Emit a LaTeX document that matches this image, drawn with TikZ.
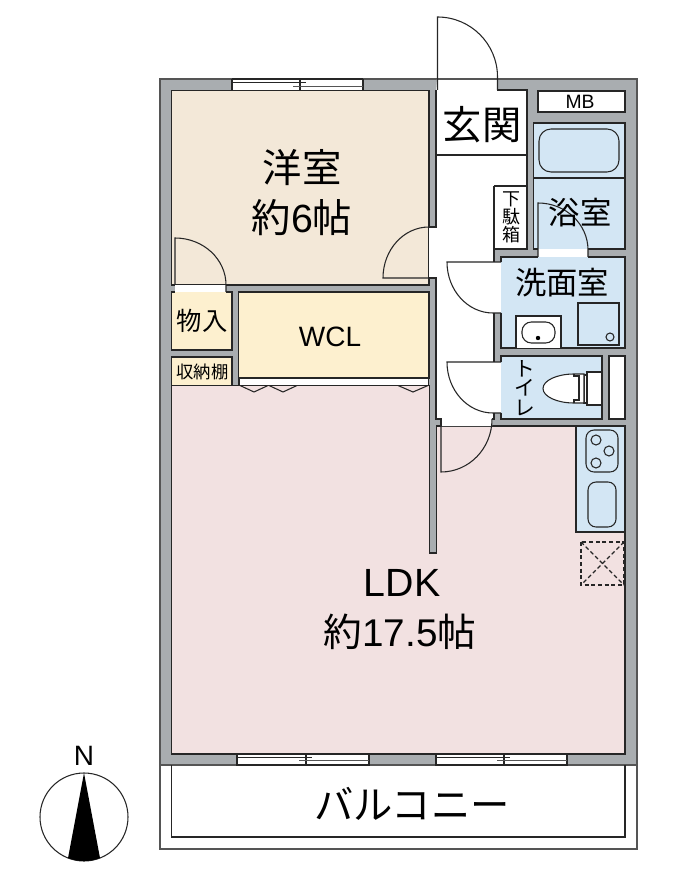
\documentclass[tikz,border=0pt]{standalone}
\usepackage{fontspec}
\setmainfont{Liberation Sans}
\newfontfamily\cjk{Noto Sans CJK JP}
\usetikzlibrary{positioning}
\definecolor{wallgray}{HTML}{A9ADB0}
\definecolor{walledge}{HTML}{555555}
\definecolor{westroom}{HTML}{F3E8D8}
\definecolor{closet}{HTML}{FDF0CF}
\definecolor{ldkroom}{HTML}{F2E1E1}
\definecolor{wetroom}{HTML}{D3E6F4}

\begin{document}
\begin{tikzpicture}[
            x=0.75pt, y=-0.75pt,
            line width=0.8pt,
            wall/.style={ draw=walledge, fill=wallgray },
            roomedge/.style={ draw=black!85 },
            opening/.style={ fill=white },
            fixture/.style={ draw=black!85, rounded corners=6pt },
            hugelabel/.style={ inner sep=0pt, font=\fontsize{29.5}{31}\selectfont },
            midlabel/.style={ inner sep=0pt, font=\fontsize{23.5}{25}\selectfont },
            smalllabel/.style={ inner sep=0pt, font=\fontsize{13.5}{13.6}\selectfont },
            dotbox/.style={ draw=black!85, densely dashed, line width=0.9pt }
        ]
            \useasboundingbox (0,0) rectangle (692,887);

            % Outer walls
            \draw[wall] (160,79) rectangle (637,765);

            % Balcony
            \draw[draw=walledge] (160,765) -- (160,849) -- (637,849) -- (637,765);
            \draw[roomedge] (171.5,765) -- (171.5,837) -- (625,837) -- (625,765);

            % Western room, closets
            \draw[roomedge, fill=westroom] (171.5,90.5) rectangle (429,285);
            \draw[roomedge, fill=closet] (226,292) -- (232,292) -- (232,350) -- (171.5,350) -- (171.5,292) -- (175,292);
            \draw[roomedge, fill=closet] (238.5,292) rectangle (429,378);
            \draw[roomedge, fill=closet] (171.5,385.5) -- (171.5,357) -- (232,357) -- (232,385.5);
            \fill[opening] (175,285.5) rectangle (226,292);
            \draw[roomedge, fill=white] (239,378) rectangle (428.5,385.5);

            % LDK
            \draw[roomedge, fill=ldkroom] (171.5,385.5) -- (429.5,385.5) -- (429.5,553) -- (436.5,553) -- (436.5,426)
                -- (576,426) -- (576,532) -- (625,532) -- (625,754) -- (171.5,754) -- cycle;
            \draw[draw=black!85, densely dashed] (171.5,385.5) -- (232,385.5);

            % Hall and entrance
            \fill[opening] (437,79) -- (497,79) -- (497,90) -- (527,90) -- (527,249) -- (494,249) -- (494,419) -- (492,419)
                -- (492,426) -- (441,426) -- (441,419) -- (436,419) -- (436,278) -- (429,278) -- (429,227) -- (436,227) -- (436,90) -- cycle;
            \draw[draw=walledge] (437,79) -- (497,79);
            \draw[roomedge] (436,90) -- (436,227) -- (429,227);
            \draw[roomedge] (429,278) -- (436,278) -- (436,419) -- (441,419) -- (441,426);
            \draw[roomedge] (497,90) -- (527,90) -- (527,249) -- (494,249);
            \draw[roomedge] (436,155) -- (527,155);
            \draw[roomedge] (494,186) -- (527,186);
            \draw[roomedge] (494,186) -- (494,262);
            \draw[roomedge] (494,313) -- (494,362);
            \draw[roomedge] (494,413) -- (494,419) -- (492,419);

            % Bath, washroom, toilet, kitchen
            \draw[roomedge, fill=white] (538,91) rectangle (625,112);
            \draw[roomedge, fill=wetroom] (538,249) -- (533.5,249) -- (533.5,123) -- (625,123) -- (625,249) -- (588,249);
            \draw[roomedge] (533.5,178) -- (625,178);
            \draw[fixture, rounded corners=9pt] (539,129) rectangle (619,172);
            \fill[opening] (538,249.4) rectangle (588,256.6);
            \fill[wetroom] (501,257) rectangle (625,348);
            \draw[roomedge] (501,262) -- (501,257) -- (538,257);
            \draw[roomedge] (588,257) -- (625,257) -- (625,348) -- (501,348) -- (501,313);
            \fill[opening] (494.4,262) rectangle (501,313);
            \draw[roomedge, fill=white] (516,348) -- (516,316) -- (561,316) -- (561,348);
            \draw[fixture, fill=white, rounded corners=7pt] (522,322) rectangle (555,343);
            \fill (538,338) circle[radius=2.2];
            \draw[roomedge] (578,303) rectangle (619,345);
            \draw[roomedge] (610,337) circle[radius=4];
            \fill[wetroom] (501,356) rectangle (602,419);
            \draw[roomedge] (501,362) -- (501,356) -- (602,356) -- (602,419) -- (501,419) -- (501,413);
            \fill[opening] (494.4,362) rectangle (501,413);
            \draw[roomedge, fill=white] (609,356) rectangle (625,419);

            % Toilet
            \draw[roomedge, fill=white] (587,372) rectangle (602,405);
            \draw[roomedge, fill=white] (584,375) rectangle (587,403);
            \draw[roomedge, fill=white] (574,374) arc[start angle=-90, end angle=-270, x radius=31, y radius=14.5] -- (584,403) -- (584,374) -- cycle;
            \draw[roomedge] (574,374) -- (574,376) -- (579,376) -- (579,400) -- (574,400) -- (574,403);

            % Kitchen
            \draw[roomedge, fill=wetroom] (576,426) rectangle (625,532);
            \draw[fixture] (586,430) rectangle (618,472);
            \foreach \cx/\cy in {596/440, 609/451, 596/463}
                \draw[roomedge] (\cx,\cy) circle[radius=5];
            \draw[fixture] (588,482) rectangle (616,527);
            \draw[dotbox] (581,542) rectangle (624,585);
            \draw[dotbox] (581,542) -- (624,585);
            \draw[dotbox] (624,542) -- (581,585);

            % Windows
            \fill[opening] (232,79.6) rectangle (363,90);
            \draw[roomedge] (232,79) -- (232,90.5);
            \draw[roomedge] (363,79) -- (363,90.5);
            \draw[roomedge] (300,79) -- (300,90.5);
            \draw[roomedge] (232,82.7) -- (306,82.7);
            \draw[draw=walledge] (293,86.5) -- (363,86.5);
            \draw[roomedge] (232,79) -- (363,79);
            \foreach \xa/\xm/\xb in {237/306/369, 436/504/567} {
                \fill[opening] (\xa,754.5) rectangle (\xb,765);
                \draw[roomedge] (\xa,754) rectangle (\xb,765);
                \draw[roomedge] (\xm,754) -- (\xm,765);
                \draw[roomedge] (\xa,757.8) -- (\xm+6,757.8);
                \draw[draw=walledge] (\xm-7,760.8) -- (\xb,760.8);
            }

            % Sliding doors
            \foreach \xa/\xm/\xb in {240/254/268, 269/283/297, 398/413/428}
                \draw[roomedge] (\xa,385.5) -- (\xm,392) -- (\xb,385.5);

            % Doors
            \draw[roomedge] (437.5,90) -- (437.5,17) arc[start angle=-90, end angle=0, radius=60] -- (497.5,90);
            \draw[roomedge] (436,227) -- (429,227) arc[start angle=-90, end angle=-180, x radius=46, y radius=51] -- (436,278);
            \draw[roomedge] (175,285) -- (175,238) arc[start angle=-90, end angle=0, x radius=51, y radius=47] -- (226,292);
            \draw[roomedge] (538,257) -- (538,203) arc[start angle=-90, end angle=0, x radius=50, y radius=47] -- (588,257);
            \draw[roomedge] (501,262) -- (447,262) arc[start angle=180, end angle=90, x radius=46, y radius=51] -- (501,313);
            \draw[roomedge] (501,362) -- (447,362) arc[start angle=180, end angle=90, x radius=46, y radius=51] -- (501,413);
            \draw[roomedge] (441,426) -- (441,472) arc[start angle=90, end angle=0, x radius=51, y radius=53];

            % Labels
            \node (westname) [hugelabel] at (302,168) {\cjk 洋室};
            \node (westsize) [hugelabel, below=9.5pt of westname] {{\cjk 約}6{\cjk 帖}};
            \node (entrance) [hugelabel] at (482,125) {\cjk 玄関};
            \node (shoebox) [smalllabel, align=center] at (511,217) {\cjk 下\\\cjk 駄\\\cjk 箱};
            \node (meterbox) [inner sep=0pt, font=\fontsize{14.5}{15}\selectfont] at (580,101.5) {MB};
            \node (bath) [midlabel] at (580,213) {\cjk 浴室};
            \node (washroom) [midlabel] at (562,283) {\cjk 洗面室};
            \node (toilet) [inner sep=0pt, align=center, font=\fontsize{15.5}{14.5}\selectfont] at (525,388) {\cjk ト\\\cjk イ\\\cjk レ};
            \node (storage) [inner sep=0pt, font=\fontsize{19}{19}\selectfont] at (202,321) {\cjk 物入};
            \node (wcl) [inner sep=0pt, font=\fontsize{21}{21}\selectfont] at (330,337) {WCL};
            \node (shelf) [inner sep=0pt, font=\fontsize{13}{14}\selectfont] at (202.5,372) {\cjk 収納棚};
            \node (ldkname) [hugelabel] at (402,583) {LDK};
            \node (ldksize) [hugelabel, font=\fontsize{29}{31}\selectfont] at (400,632) {{\cjk 約}17.5{\cjk 帖}};
            \node (balcony) [hugelabel] at (412,804) {\cjk バルコニー};

            % North mark
            \node (northmark) [inner sep=0pt, font=\fontsize{21}{21}\selectfont] at (84,756) {N};
            \draw[roomedge, fill=white] (84,817) circle[radius=44];
            \fill (84,773) -- (100,858) arc[start angle=68.7, end angle=111.3, radius=44] -- cycle;
        \end{tikzpicture}
\end{document}
